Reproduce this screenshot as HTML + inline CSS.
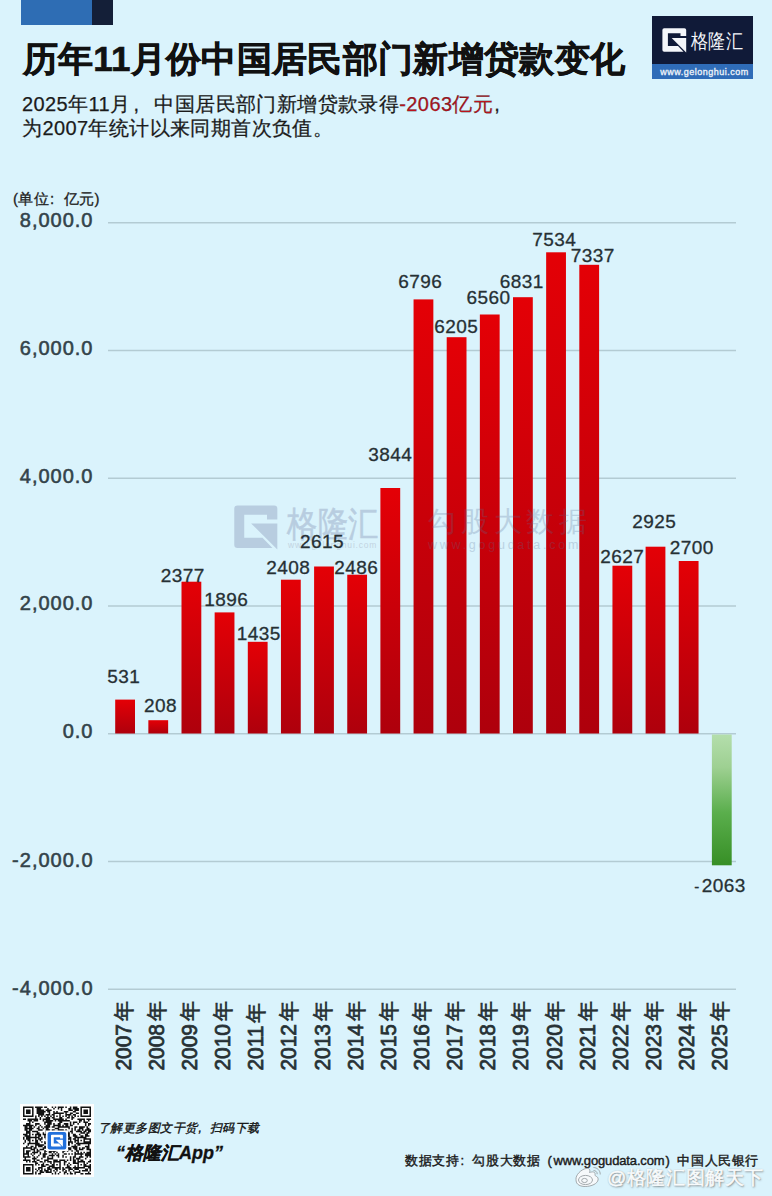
<!DOCTYPE html>
<html><head><meta charset="utf-8">
<style>
html,body{margin:0;padding:0;}
body{width:772px;height:1196px;overflow:hidden;background:#daf3fc;position:relative;font-family:"Liberation Sans",sans-serif;color:#1a1a1a;}
.abs{position:absolute;}
#blk1{left:21px;top:0;width:71px;height:24.5px;background:#2e6db4;}
#blk2{left:92px;top:0;width:21px;height:24.5px;background:#141f38;}
#title{left:22.5px;top:35.5px;font-size:35px;letter-spacing:0.33px;font-weight:bold;-webkit-text-stroke:0.6px #111;white-space:nowrap;color:#111;}
#sub{left:22px;top:91.5px;font-size:20px;letter-spacing:0.4px;line-height:24px;white-space:nowrap;color:#1b1b1b;-webkit-text-stroke:0.25px #1b1b1b;}
.cm{display:inline-block;width:1em;text-align:left;padding-left:1px;box-sizing:border-box;}
#sub .r{color:#bc121c;}
#unit{left:13px;top:190px;font-size:15px;letter-spacing:0.3px;-webkit-text-stroke:0.3px #222;white-space:nowrap;color:#222;}
#logo{left:652px;top:16px;width:101px;height:63px;background:#101b3a;}
svg{position:absolute;left:0;top:0;}
#foot1{left:98px;top:1119.5px;font-size:12px;letter-spacing:0.45px;font-style:italic;-webkit-text-stroke:0.35px #111;white-space:nowrap;color:#111;}
#foot2{left:116px;top:1141px;font-size:18px;font-style:italic;font-weight:bold;-webkit-text-stroke:0.3px #111;white-space:nowrap;color:#111;}
#foot3{left:405px;top:1152px;font-size:13px;letter-spacing:0.6px;-webkit-text-stroke:0.4px #1a1a1a;white-space:nowrap;color:#1a1a1a;}
.pl{display:inline-block;width:1em;text-align:right;padding-right:1px;box-sizing:border-box;}
.lat{font-size:13px;letter-spacing:-0.15px;}
#wb{left:607px;top:1165px;font-size:19px;letter-spacing:0.6px;white-space:nowrap;color:#f8fbfc;-webkit-text-stroke:0.6px #f8fbfc;text-shadow:1px 1px 2px #6d7478,0 0 1px #8a9094;}
</style></head>
<body>
<div id="blk1" class="abs"></div>
<div id="blk2" class="abs"></div>
<div id="title" class="abs">历年11月份中国居民部门新增贷款变化</div>
<div id="sub" class="abs">2025年11月<span class="cm" style="width:1.2em;padding-left:3px">,</span>中国居民部门新增贷款录得<span class="r">-2063亿元</span><span class="cm">,</span><br>为2007年统计以来同期首次负值。</div>
<div id="logo" class="abs"><svg width="101" height="63" viewBox="0 0 101 63" style="position:absolute;left:0;top:0">
<rect x="0" y="0" width="101" height="48" fill="#101a38"/>
<rect x="0" y="48" width="101" height="15" fill="#2f6cb8"/>
<g transform="translate(6,8)" fill="#f4f6fa">
<path d="M4.4,6 Q4.4,4.2 6.2,4.2 L26.4,4.2 Q28.2,4.2 28.2,6 L28.2,11.9 L22.5,11.9 L22.5,9.3 L9.9,9.3 L9.9,22 L20,22 L25.5,27.7 L6.2,27.7 Q4.4,27.7 4.4,25.9 Z"/>
<path d="M13.7,14.1 L28.2,14.1 L28.2,28.5 Z"/>
</g>
<text transform="translate(38.5,32.2) scale(0.94,1.1)" font-family="Liberation Sans" font-size="18" fill="#f4f6fa" letter-spacing="1.3">格隆汇</text>
<text x="52.5" y="58.5" font-family="Liberation Sans" font-size="9" fill="#f0f4fa" stroke="#f0f4fa" stroke-width="0.3" text-anchor="middle" letter-spacing="0.5">www.gelonghui.com</text>
</svg></div>
<div id="unit" class="abs">(单位<span class="cm">:</span>亿元)</div>

<svg width="772" height="1196" viewBox="0 0 772 1196">
<defs>
<linearGradient id="gr" x1="0" y1="0" x2="0" y2="1" gradientUnits="objectBoundingBox">
<stop offset="0" stop-color="#e40006"/><stop offset="1" stop-color="#ae000c"/>
</linearGradient>
<linearGradient id="gg" x1="0" y1="0" x2="0" y2="1">
<stop offset="0" stop-color="#b4deac"/><stop offset="0.25" stop-color="#9ed092"/><stop offset="0.6" stop-color="#5aae4c"/><stop offset="1" stop-color="#378f26"/>
</linearGradient>
</defs>
<g stroke="#b3cbd3" stroke-width="1.5">
<line x1="108" y1="222.7" x2="736" y2="222.7"/>
<line x1="108" y1="350.4" x2="736" y2="350.4"/>
<line x1="108" y1="478.2" x2="736" y2="478.2"/>
<line x1="108" y1="606" x2="736" y2="606"/>
<line x1="108" y1="733.7" x2="736" y2="733.7"/>
<line x1="108" y1="861.5" x2="736" y2="861.5"/>
<line x1="108" y1="989.2" x2="736" y2="989.2"/>
</g>
<g font-family="Liberation Sans" font-size="20" fill="#33434a" stroke="#33434a" stroke-width="0.55" letter-spacing="1" text-anchor="end">
<text x="93.5" y="227">8,000.0</text>
<text x="93.5" y="354.7">6,000.0</text>
<text x="93.5" y="482.5">4,000.0</text>
<text x="93.5" y="610.3">2,000.0</text>
<text x="93.5" y="738.3">0.0</text>
<text x="93.5" y="867.3">-2,000.0</text>
<text x="93.5" y="994.8">-4,000.0</text>
</g>
<g id="wm1">
<g transform="translate(226.3,497.9) scale(1.81)" fill="#b8cde0">
<path d="M4.4,6 Q4.4,4.2 6.2,4.2 L26.4,4.2 Q28.2,4.2 28.2,6 L28.2,11.9 L22.5,11.9 L22.5,9.3 L9.9,9.3 L9.9,22 L20,22 L25.5,27.7 L6.2,27.7 Q4.4,27.7 4.4,25.9 Z"/>
<path d="M13.7,14.1 L28.2,14.1 L28.2,28.5 Z"/>
</g>
<text transform="translate(287,536) scale(0.97,1.12)" font-family="Liberation Sans" font-size="31" fill="#b8cde0" stroke="#b8cde0" stroke-width="0.5" letter-spacing="1">格隆汇</text>
<text x="288" y="548" font-family="Liberation Sans" font-size="8.5" fill="#c2d4e2" letter-spacing="0.8">www.gelonghui.com</text>
</g>
<g>
<rect x="115.20" y="699.6" width="19.8" height="33.9" fill="url(#gr)"/>
<rect x="148.35" y="720.2" width="19.8" height="13.3" fill="url(#gr)"/>
<rect x="181.50" y="581.7" width="19.8" height="151.8" fill="url(#gr)"/>
<rect x="214.65" y="612.4" width="19.8" height="121.1" fill="url(#gr)"/>
<rect x="247.80" y="641.8" width="19.8" height="91.7" fill="url(#gr)"/>
<rect x="280.95" y="579.7" width="19.8" height="153.8" fill="url(#gr)"/>
<rect x="314.10" y="566.5" width="19.8" height="167.0" fill="url(#gr)"/>
<rect x="347.25" y="574.7" width="19.8" height="158.8" fill="url(#gr)"/>
<rect x="380.40" y="488.0" width="19.8" height="245.5" fill="url(#gr)"/>
<rect x="413.55" y="299.4" width="19.8" height="434.1" fill="url(#gr)"/>
<rect x="446.70" y="337.2" width="19.8" height="396.3" fill="url(#gr)"/>
<rect x="479.85" y="314.5" width="19.8" height="419.0" fill="url(#gr)"/>
<rect x="513.00" y="297.2" width="19.8" height="436.3" fill="url(#gr)"/>
<rect x="546.15" y="252.3" width="19.8" height="481.2" fill="url(#gr)"/>
<rect x="579.30" y="264.8" width="19.8" height="468.7" fill="url(#gr)"/>
<rect x="612.45" y="565.7" width="19.8" height="167.8" fill="url(#gr)"/>
<rect x="645.60" y="546.7" width="19.8" height="186.8" fill="url(#gr)"/>
<rect x="678.75" y="561.0" width="19.8" height="172.5" fill="url(#gr)"/>
<rect x="711.90" y="734.5" width="19.8" height="130.8" fill="url(#gg)"/>
</g>
<g id="wm2" fill="#5a6e96" opacity="0.25" font-family="Liberation Sans">
<text x="428" y="530.5" font-size="28" letter-spacing="4.8">勾股大数据</text>
<text x="428" y="549" font-size="12.5" letter-spacing="2.75">www.gogudata.com</text>
</g>

<g font-family="Liberation Sans" font-size="19" letter-spacing="0.45" fill="#263034" stroke="#263034" stroke-width="0.3" text-anchor="middle">
<text x="123.7" y="682.5">531</text>
<text x="160.5" y="711.5">208</text>
<text x="182.7" y="581.5">2377</text>
<text x="226.2" y="605.5">1896</text>
<text x="258.7" y="640">1435</text>
<text x="288.2" y="574">2408</text>
<text x="322" y="548">2615</text>
<text x="356.2" y="574">2486</text>
<text x="390.2" y="460.7">3844</text>
<text x="420.2" y="288">6796</text>
<text x="456.2" y="332.5">6205</text>
<text x="488.5" y="304">6560</text>
<text x="521.7" y="288">6831</text>
<text x="554.2" y="245.5">7534</text>
<text x="592.7" y="261.5">7337</text>
<text x="622.2" y="562.5">2627</text>
<text x="654.2" y="528">2925</text>
<text x="691.7" y="554">2700</text>
<text x="720" y="892"><tspan font-size="15">-</tspan><tspan dx="2">2063</tspan></text>
</g>
<g font-family="Liberation Sans" font-size="22" fill="#263034" stroke="#263034" stroke-width="0.75">
<text transform="translate(130.6,1070.5) rotate(-90) scale(0.95,1)">2007<tspan dx="3" font-size="21">年</tspan></text>
<text transform="translate(163.8,1070.5) rotate(-90) scale(0.95,1)">2008<tspan dx="3" font-size="21">年</tspan></text>
<text transform="translate(196.9,1070.5) rotate(-90) scale(0.95,1)">2009<tspan dx="3" font-size="21">年</tspan></text>
<text transform="translate(230.0,1070.5) rotate(-90) scale(0.95,1)">2010<tspan dx="3" font-size="21">年</tspan></text>
<text transform="translate(263.2,1070.5) rotate(-90) scale(0.95,1)">2011<tspan dx="3" font-size="21">年</tspan></text>
<text transform="translate(296.3,1070.5) rotate(-90) scale(0.95,1)">2012<tspan dx="3" font-size="21">年</tspan></text>
<text transform="translate(329.5,1070.5) rotate(-90) scale(0.95,1)">2013<tspan dx="3" font-size="21">年</tspan></text>
<text transform="translate(362.6,1070.5) rotate(-90) scale(0.95,1)">2014<tspan dx="3" font-size="21">年</tspan></text>
<text transform="translate(395.8,1070.5) rotate(-90) scale(0.95,1)">2015<tspan dx="3" font-size="21">年</tspan></text>
<text transform="translate(428.9,1070.5) rotate(-90) scale(0.95,1)">2016<tspan dx="3" font-size="21">年</tspan></text>
<text transform="translate(462.1,1070.5) rotate(-90) scale(0.95,1)">2017<tspan dx="3" font-size="21">年</tspan></text>
<text transform="translate(495.2,1070.5) rotate(-90) scale(0.95,1)">2018<tspan dx="3" font-size="21">年</tspan></text>
<text transform="translate(528.4,1070.5) rotate(-90) scale(0.95,1)">2019<tspan dx="3" font-size="21">年</tspan></text>
<text transform="translate(561.5,1070.5) rotate(-90) scale(0.95,1)">2020<tspan dx="3" font-size="21">年</tspan></text>
<text transform="translate(594.7,1070.5) rotate(-90) scale(0.95,1)">2021<tspan dx="3" font-size="21">年</tspan></text>
<text transform="translate(627.9,1070.5) rotate(-90) scale(0.95,1)">2022<tspan dx="3" font-size="21">年</tspan></text>
<text transform="translate(661.0,1070.5) rotate(-90) scale(0.95,1)">2023<tspan dx="3" font-size="21">年</tspan></text>
<text transform="translate(694.1,1070.5) rotate(-90) scale(0.95,1)">2024<tspan dx="3" font-size="21">年</tspan></text>
<text transform="translate(727.3,1070.5) rotate(-90) scale(0.95,1)">2025<tspan dx="3" font-size="21">年</tspan></text>
</g>
</svg>

<svg width="772" height="1196" style="position:absolute;left:0;top:0">
<rect x="20" y="1104" width="74" height="73" fill="#fdfdfd"/>
<path transform="translate(23,1106.5) scale(1.511)" d="M0 0h7v1h-7zM8 0h5v1h-5zM14 0h2v1h-2zM19 0h1v1h-1zM21 0h1v1h-1zM23 0h4v1h-4zM28 0h1v1h-1zM31 0h1v1h-1zM33 0h3v1h-3zM38 0h7v1h-7zM0 1h1v1h-1zM6 1h1v1h-1zM9 1h3v1h-3zM16 1h1v1h-1zM20 1h1v1h-1zM23 1h1v1h-1zM25 1h1v1h-1zM30 1h2v1h-2zM33 1h4v1h-4zM38 1h1v1h-1zM44 1h1v1h-1zM0 2h1v1h-1zM2 2h3v1h-3zM6 2h1v1h-1zM9 2h5v1h-5zM15 2h4v1h-4zM25 2h1v1h-1zM30 2h3v1h-3zM34 2h3v1h-3zM38 2h1v1h-1zM40 2h3v1h-3zM44 2h1v1h-1zM0 3h1v1h-1zM2 3h3v1h-3zM6 3h1v1h-1zM9 3h6v1h-6zM16 3h2v1h-2zM20 3h1v1h-1zM22 3h1v1h-1zM27 3h3v1h-3zM33 3h2v1h-2zM38 3h1v1h-1zM40 3h3v1h-3zM44 3h1v1h-1zM0 4h1v1h-1zM2 4h3v1h-3zM6 4h1v1h-1zM9 4h5v1h-5zM17 4h1v1h-1zM20 4h7v1h-7zM28 4h1v1h-1zM31 4h2v1h-2zM35 4h2v1h-2zM38 4h1v1h-1zM40 4h3v1h-3zM44 4h1v1h-1zM0 5h1v1h-1zM6 5h1v1h-1zM10 5h4v1h-4zM15 5h3v1h-3zM19 5h2v1h-2zM24 5h1v1h-1zM28 5h4v1h-4zM33 5h2v1h-2zM38 5h1v1h-1zM44 5h1v1h-1zM0 6h7v1h-7zM8 6h1v1h-1zM10 6h1v1h-1zM12 6h1v1h-1zM14 6h1v1h-1zM16 6h1v1h-1zM18 6h1v1h-1zM20 6h1v1h-1zM22 6h1v1h-1zM24 6h1v1h-1zM26 6h1v1h-1zM28 6h1v1h-1zM30 6h1v1h-1zM32 6h1v1h-1zM34 6h1v1h-1zM36 6h1v1h-1zM38 6h7v1h-7zM8 7h1v1h-1zM11 7h1v1h-1zM15 7h3v1h-3zM19 7h2v1h-2zM24 7h2v1h-2zM29 7h2v1h-2zM32 7h2v1h-2zM0 8h2v1h-2zM3 8h7v1h-7zM11 8h1v1h-1zM13 8h5v1h-5zM20 8h7v1h-7zM28 8h1v1h-1zM32 8h1v1h-1zM36 8h5v1h-5zM42 8h3v1h-3zM3 9h3v1h-3zM7 9h3v1h-3zM13 9h1v1h-1zM15 9h5v1h-5zM21 9h1v1h-1zM23 9h8v1h-8zM37 9h2v1h-2zM40 9h1v1h-1zM43 9h1v1h-1zM4 10h1v1h-1zM6 10h1v1h-1zM14 10h5v1h-5zM24 10h2v1h-2zM31 10h1v1h-1zM33 10h3v1h-3zM37 10h1v1h-1zM40 10h3v1h-3zM2 11h3v1h-3zM8 11h3v1h-3zM14 11h1v1h-1zM16 11h3v1h-3zM20 11h1v1h-1zM23 11h2v1h-2zM27 11h3v1h-3zM31 11h1v1h-1zM33 11h1v1h-1zM36 11h1v1h-1zM41 11h1v1h-1zM43 11h2v1h-2zM0 12h7v1h-7zM8 12h1v1h-1zM11 12h1v1h-1zM15 12h3v1h-3zM20 12h5v1h-5zM26 12h1v1h-1zM28 12h2v1h-2zM31 12h2v1h-2zM41 12h1v1h-1zM43 12h1v1h-1zM1 13h2v1h-2zM4 13h2v1h-2zM7 13h1v1h-1zM10 13h1v1h-1zM12 13h1v1h-1zM14 13h4v1h-4zM19 13h2v1h-2zM23 13h8v1h-8zM34 13h2v1h-2zM37 13h4v1h-4zM42 13h1v1h-1zM1 14h6v1h-6zM9 14h2v1h-2zM13 14h1v1h-1zM15 14h2v1h-2zM21 14h3v1h-3zM30 14h1v1h-1zM32 14h1v1h-1zM34 14h1v1h-1zM37 14h3v1h-3zM42 14h2v1h-2zM1 15h2v1h-2zM4 15h2v1h-2zM10 15h3v1h-3zM15 15h3v1h-3zM19 15h2v1h-2zM23 15h4v1h-4zM28 15h1v1h-1zM32 15h1v1h-1zM34 15h1v1h-1zM36 15h2v1h-2zM39 15h1v1h-1zM41 15h4v1h-4zM2 16h3v1h-3zM6 16h4v1h-4zM15 16h2v1h-2zM19 16h1v1h-1zM21 16h7v1h-7zM29 16h1v1h-1zM31 16h2v1h-2zM35 16h4v1h-4zM40 16h2v1h-2zM43 16h2v1h-2zM2 17h3v1h-3zM9 17h2v1h-2zM13 17h1v1h-1zM15 17h3v1h-3zM22 17h3v1h-3zM27 17h4v1h-4zM32 17h1v1h-1zM38 17h3v1h-3zM42 17h2v1h-2zM0 18h3v1h-3zM4 18h1v1h-1zM6 18h1v1h-1zM8 18h4v1h-4zM13 18h3v1h-3zM21 18h1v1h-1zM23 18h1v1h-1zM25 18h1v1h-1zM27 18h4v1h-4zM33 18h2v1h-2zM37 18h1v1h-1zM41 18h2v1h-2zM1 19h4v1h-4zM8 19h1v1h-1zM10 19h2v1h-2zM14 19h1v1h-1zM17 19h5v1h-5zM24 19h3v1h-3zM28 19h3v1h-3zM33 19h3v1h-3zM38 19h2v1h-2zM41 19h3v1h-3zM0 20h1v1h-1zM2 20h9v1h-9zM12 20h1v1h-1zM14 20h1v1h-1zM16 20h3v1h-3zM22 20h1v1h-1zM24 20h1v1h-1zM26 20h2v1h-2zM30 20h2v1h-2zM34 20h8v1h-8zM0 21h1v1h-1zM2 21h3v1h-3zM8 21h1v1h-1zM10 21h3v1h-3zM15 21h1v1h-1zM18 21h1v1h-1zM20 21h1v1h-1zM24 21h2v1h-2zM27 21h1v1h-1zM29 21h3v1h-3zM33 21h2v1h-2zM36 21h1v1h-1zM40 21h5v1h-5zM1 22h1v1h-1zM3 22h2v1h-2zM6 22h1v1h-1zM8 22h2v1h-2zM11 22h1v1h-1zM16 22h1v1h-1zM18 22h1v1h-1zM21 22h1v1h-1zM24 22h2v1h-2zM27 22h1v1h-1zM29 22h1v1h-1zM31 22h1v1h-1zM34 22h3v1h-3zM38 22h1v1h-1zM40 22h1v1h-1zM44 22h1v1h-1zM1 23h1v1h-1zM4 23h1v1h-1zM8 23h2v1h-2zM12 23h1v1h-1zM14 23h1v1h-1zM17 23h1v1h-1zM19 23h2v1h-2zM22 23h1v1h-1zM24 23h1v1h-1zM29 23h4v1h-4zM34 23h1v1h-1zM36 23h1v1h-1zM40 23h5v1h-5zM0 24h1v1h-1zM3 24h8v1h-8zM14 24h3v1h-3zM19 24h1v1h-1zM21 24h1v1h-1zM24 24h1v1h-1zM26 24h1v1h-1zM28 24h3v1h-3zM32 24h1v1h-1zM35 24h10v1h-10zM3 25h1v1h-1zM8 25h6v1h-6zM18 25h1v1h-1zM20 25h1v1h-1zM23 25h1v1h-1zM26 25h1v1h-1zM28 25h3v1h-3zM34 25h1v1h-1zM36 25h2v1h-2zM43 25h1v1h-1zM2 26h1v1h-1zM5 26h2v1h-2zM8 26h1v1h-1zM10 26h3v1h-3zM14 26h4v1h-4zM22 26h1v1h-1zM24 26h1v1h-1zM28 26h1v1h-1zM32 26h4v1h-4zM41 26h3v1h-3zM0 27h6v1h-6zM7 27h2v1h-2zM13 27h3v1h-3zM17 27h1v1h-1zM20 27h1v1h-1zM22 27h1v1h-1zM24 27h3v1h-3zM29 27h3v1h-3zM33 27h3v1h-3zM37 27h1v1h-1zM39 27h2v1h-2zM42 27h2v1h-2zM0 28h1v1h-1zM5 28h3v1h-3zM9 28h1v1h-1zM11 28h3v1h-3zM16 28h1v1h-1zM18 28h2v1h-2zM24 28h3v1h-3zM30 28h2v1h-2zM34 28h2v1h-2zM37 28h3v1h-3zM42 28h3v1h-3zM0 29h1v1h-1zM2 29h3v1h-3zM7 29h1v1h-1zM9 29h2v1h-2zM14 29h2v1h-2zM17 29h5v1h-5zM26 29h2v1h-2zM29 29h1v1h-1zM32 29h1v1h-1zM35 29h2v1h-2zM44 29h1v1h-1zM0 30h1v1h-1zM2 30h2v1h-2zM6 30h4v1h-4zM11 30h1v1h-1zM14 30h1v1h-1zM17 30h2v1h-2zM20 30h1v1h-1zM22 30h1v1h-1zM26 30h1v1h-1zM34 30h1v1h-1zM36 30h1v1h-1zM38 30h1v1h-1zM40 30h1v1h-1zM42 30h3v1h-3zM0 31h4v1h-4zM5 31h1v1h-1zM7 31h1v1h-1zM11 31h1v1h-1zM13 31h3v1h-3zM19 31h1v1h-1zM21 31h1v1h-1zM23 31h1v1h-1zM27 31h2v1h-2zM30 31h1v1h-1zM32 31h1v1h-1zM34 31h6v1h-6zM41 31h4v1h-4zM0 32h1v1h-1zM3 32h1v1h-1zM6 32h1v1h-1zM10 32h1v1h-1zM13 32h2v1h-2zM17 32h4v1h-4zM22 32h2v1h-2zM26 32h1v1h-1zM34 32h1v1h-1zM38 32h1v1h-1zM41 32h4v1h-4zM0 33h5v1h-5zM7 33h1v1h-1zM9 33h1v1h-1zM13 33h2v1h-2zM16 33h1v1h-1zM19 33h1v1h-1zM23 33h1v1h-1zM26 33h1v1h-1zM28 33h1v1h-1zM31 33h1v1h-1zM33 33h2v1h-2zM37 33h3v1h-3zM42 33h1v1h-1zM44 33h1v1h-1zM1 34h1v1h-1zM6 34h3v1h-3zM12 34h1v1h-1zM16 34h4v1h-4zM31 34h1v1h-1zM33 34h1v1h-1zM35 34h3v1h-3zM41 34h1v1h-1zM0 35h5v1h-5zM7 35h1v1h-1zM9 35h2v1h-2zM14 35h3v1h-3zM20 35h3v1h-3zM24 35h4v1h-4zM29 35h1v1h-1zM31 35h1v1h-1zM33 35h2v1h-2zM36 35h1v1h-1zM38 35h2v1h-2zM44 35h1v1h-1zM2 36h1v1h-1zM4 36h1v1h-1zM6 36h3v1h-3zM11 36h2v1h-2zM14 36h1v1h-1zM16 36h3v1h-3zM20 36h5v1h-5zM27 36h2v1h-2zM33 36h2v1h-2zM36 36h5v1h-5zM43 36h2v1h-2zM8 37h2v1h-2zM13 37h1v1h-1zM18 37h1v1h-1zM20 37h1v1h-1zM24 37h1v1h-1zM27 37h1v1h-1zM30 37h1v1h-1zM33 37h4v1h-4zM40 37h1v1h-1zM42 37h1v1h-1zM0 38h7v1h-7zM8 38h1v1h-1zM10 38h1v1h-1zM12 38h2v1h-2zM15 38h2v1h-2zM19 38h2v1h-2zM22 38h1v1h-1zM24 38h1v1h-1zM27 38h1v1h-1zM29 38h1v1h-1zM31 38h1v1h-1zM36 38h1v1h-1zM38 38h1v1h-1zM40 38h2v1h-2zM44 38h1v1h-1zM0 39h1v1h-1zM6 39h1v1h-1zM12 39h3v1h-3zM17 39h4v1h-4zM24 39h1v1h-1zM29 39h2v1h-2zM34 39h1v1h-1zM36 39h1v1h-1zM40 39h5v1h-5zM0 40h1v1h-1zM2 40h3v1h-3zM6 40h1v1h-1zM10 40h3v1h-3zM16 40h2v1h-2zM19 40h6v1h-6zM26 40h1v1h-1zM28 40h4v1h-4zM33 40h8v1h-8zM43 40h2v1h-2zM0 41h1v1h-1zM2 41h3v1h-3zM6 41h1v1h-1zM8 41h1v1h-1zM10 41h1v1h-1zM12 41h1v1h-1zM14 41h1v1h-1zM16 41h3v1h-3zM21 41h2v1h-2zM24 41h1v1h-1zM26 41h2v1h-2zM30 41h3v1h-3zM34 41h3v1h-3zM41 41h2v1h-2zM44 41h1v1h-1zM0 42h1v1h-1zM2 42h3v1h-3zM6 42h1v1h-1zM9 42h1v1h-1zM11 42h2v1h-2zM14 42h3v1h-3zM18 42h1v1h-1zM20 42h1v1h-1zM22 42h1v1h-1zM26 42h1v1h-1zM28 42h1v1h-1zM30 42h1v1h-1zM33 42h1v1h-1zM37 42h1v1h-1zM39 42h4v1h-4zM44 42h1v1h-1zM0 43h1v1h-1zM6 43h1v1h-1zM8 43h1v1h-1zM11 43h3v1h-3zM15 43h4v1h-4zM21 43h1v1h-1zM24 43h1v1h-1zM27 43h2v1h-2zM31 43h1v1h-1zM34 43h4v1h-4zM43 43h1v1h-1zM0 44h7v1h-7zM8 44h1v1h-1zM10 44h2v1h-2zM19 44h1v1h-1zM21 44h1v1h-1zM23 44h1v1h-1zM27 44h1v1h-1zM29 44h1v1h-1zM31 44h2v1h-2zM34 44h1v1h-1zM38 44h2v1h-2zM41 44h4v1h-4z" fill="#111"/>
<rect x="46" y="1130.5" width="22" height="20.5" fill="#fff"/>
<rect x="47.6" y="1132" width="18.7" height="17.6" rx="2" fill="#2170dc"/>
<g transform="translate(48.8,1132.6) scale(0.5)" fill="#fff">
<path d="M4.4,6 Q4.4,4.2 6.2,4.2 L26.4,4.2 Q28.2,4.2 28.2,6 L28.2,11.9 L22.5,11.9 L22.5,9.3 L9.9,9.3 L9.9,22 L20,22 L25.5,27.7 L6.2,27.7 Q4.4,27.7 4.4,25.9 Z"/>
<path d="M13.7,14.1 L28.2,14.1 L28.2,28.5 Z"/>
</g>
</svg>
<div id="foot1" class="abs">了解更多图文干货<span class="cm">,</span>扫码下载</div>
<div id="foot2" class="abs">“格隆汇App”</div>
<div id="foot3" class="abs">数据支持<span class="cm">:</span>勾股大数据<span class="pl">(</span><span class="lat">www.gogudata.com</span><span class="cm">)</span>中国人民银行</div>
<svg width="30" height="26" viewBox="0 0 30 26" style="position:absolute;left:573px;top:1164px">
<g fill="#f6f9fb" stroke="#9aa0a4" stroke-width="0.9">
<path d="M3,15.5 C2.5,11 8,5.5 13,4.5 C16.5,3.8 17.5,6 16.5,8.5 C19.5,7.5 22.5,7.5 22,10.5 C21.8,11.5 22.5,12 23.5,12.5 C26,13.5 26,18 21,20.5 C16,23 8,23.5 4.5,20 C3.5,19 3,17.5 3,15.5 Z"/>
<ellipse cx="12.5" cy="16" rx="7" ry="4.6"/>
<ellipse cx="11.5" cy="16.5" rx="2.8" ry="2.1"/>
<path d="M20.5,3.5 C24,3.5 27.5,6.5 27.2,10.5" fill="none"/>
<path d="M20.5,6.5 C22.5,6.5 24.5,8 24.2,10.2" fill="none"/>
</g>
</svg>
<div id="wb" class="abs">@格隆汇图解天下</div>
</body></html>
